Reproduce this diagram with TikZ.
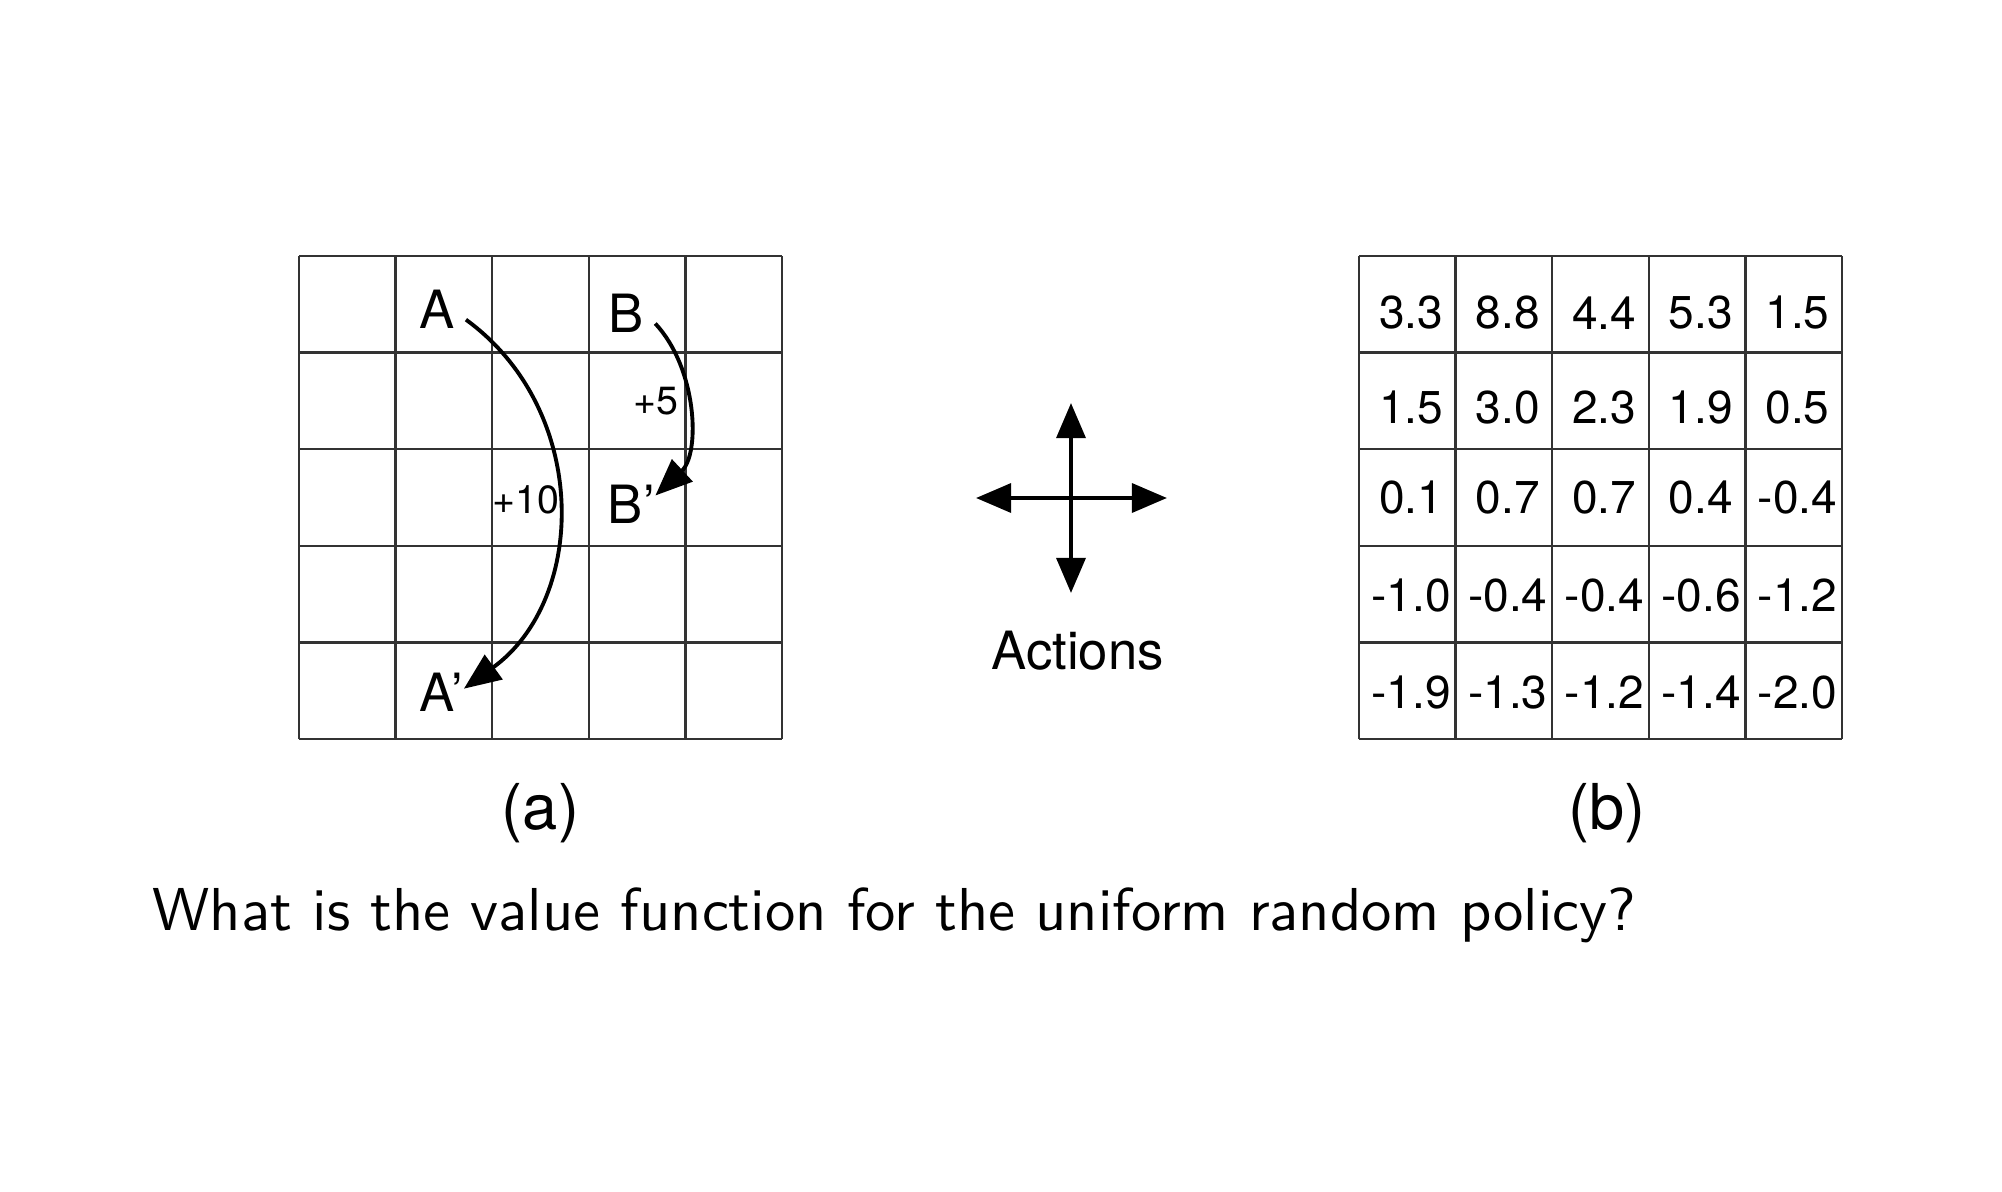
\documentclass[tikz,border=0pt]{standalone}
\usepackage{fontspec}
\usepackage{tikz}
\newfontfamily\helv{TeX Gyre Heros}
\newfontfamily\slidefont{lmsans10-regular.otf}
\usetikzlibrary{arrows.meta}
\tikzset{gridline/.style={draw=black!80,line width=0.7pt},
 cellmark/.style={font=\helv\fontsize{15}{17}\selectfont,inner sep=3pt},
 landing/.style={font=\helv\fontsize{15}{17}\selectfont,inner sep=0pt},
 bonus/.style={font=\helv\fontsize{11.2}{13}\selectfont,inner sep=0pt},
 value/.style={font=\helv\fontsize{13.1}{15}\selectfont,inner sep=0pt},
 jump/.style={-{Triangle[length=10.5pt,width=8.5pt]},line width=1.1pt},
 move/.style={{Triangle[length=10pt,width=8.2pt]}-{Triangle[length=10pt,width=8.2pt]},line width=1.2pt},
 }

\begin{document}
\begin{tikzpicture}
    \useasboundingbox (0,0) rectangle (20.02,-11.92);
    \begin{scope}[shift={(2.99,-7.39)},scale=0.966]
        \draw[gridline] (0,0) grid (5,5);
        \node[cellmark] (A) at (1.43,4.45) {A};
        \node[cellmark] (B) at (3.39,4.41) {B};
        \node[landing] (Ap) at (1.475,0.48) {A’};
        \node[landing] (Bp) at (3.44,2.43) {B’};
        \node[bonus] (r10) at (2.35,2.48) {+10};
        \node[bonus] (r5) at (3.69,3.50) {+5};
        \draw[jump] (A.-20) to[out=-36,in=36,looseness=1.06] (Ap.10);
        \draw[jump] (B.-20) to[out=-47,in=43,looseness=0.92] (Bp.20);
    \end{scope}
    \coordinate (up) at (10.71,-4.03);
    \coordinate (down) at (10.71,-5.93);
    \coordinate (left) at (9.76,-4.98);
    \coordinate (right) at (11.67,-4.98);
    \draw[move] (up) -- (down);
    \draw[move] (left) -- (right);
    \node[landing] (actions) at (10.775,-6.51) {Actions};
    \begin{scope}[shift={(13.59,-7.39)},scale=0.966]
        \draw[gridline] (0,0) grid (5,5);
        \foreach \r/\dy/\vals in {0/0.09/{3.3,8.8,4.4,5.3,1.5},
                                  1/0.07/{1.5,3.0,2.3,1.9,0.5},
                                  2/0/{0.1,0.7,0.7,0.4,-0.4},
                                  3/0.01/{-1.0,-0.4,-0.4,-0.6,-1.2},
                                  4/0.02/{-1.9,-1.3,-1.2,-1.4,-2.0}}
            \foreach \v [count=\c from 0] in \vals
                \node[value] (v\r\c) at (\c+0.54,4.5-\r-\dy) {\v};
    \end{scope}
    \node[landing,font=\helv\fontsize{18}{20}\selectfont] (capa) at (5.405,-8.13) {(a)};
    \node[landing,font=\helv\fontsize{18}{20}\selectfont] (capb) at (16.07,-8.13) {(b)};
    \node[anchor=base west,inner sep=0pt,font=\slidefont\fontsize{17.25}{20}\selectfont] (question) at (1.52,-9.30) {What is the value function for the uniform random policy?};
\end{tikzpicture}
\end{document}
